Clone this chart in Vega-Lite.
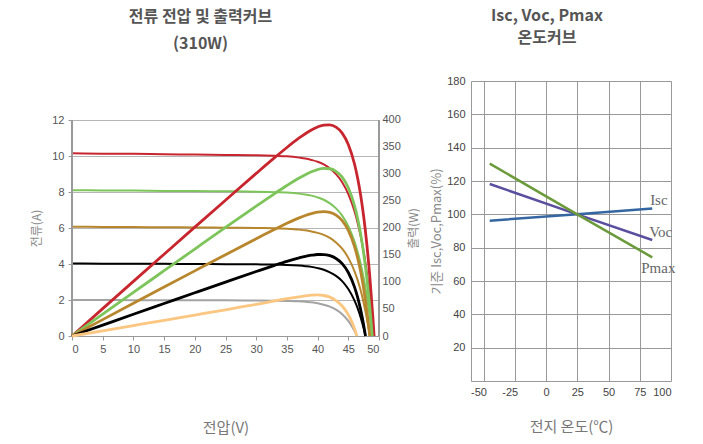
{
  "$schema": "https://vega.github.io/schema/vega-lite/v6.json",
  "background": "white",
  "padding": {"left": 30, "top": 8, "right": 5, "bottom": 5},
  "spacing": 10,
  "config": {
    "view": {"stroke": null},
    "font": "Liberation Sans",
    "axis": {
      "labelFont": "Liberation Sans",
      "labelFontSize": 11,
      "labelColor": "#555",
      "labelOverlap": false,
      "tickCount": 30,
      "labelExpr": "'' + datum.value",
      "titleFont": "Noto Sans CJK KR",
      "titleFontWeight": "normal",
      "titleColor": "#888",
      "domainColor": "#999",
      "tickColor": "#999"
    },
    "title": {"font": "Noto Sans CJK KR", "fontSize": 16, "fontWeight": "bold", "color": "#555", "anchor": "middle", "frame": "group"}
  },
  "datasets": {
    "iv": [
      {"s":"10A","V":0,"I":10.15,"P":0},{"s":"10A","V":5,"I":10.13,"P":50.7},{"s":"10A","V":10,"I":10.12,"P":101.2},{"s":"10A","V":15,"I":10.1,"P":151.5},{"s":"10A","V":20,"I":10.08,"P":201.6},{"s":"10A","V":25,"I":10.06,"P":251.5},{"s":"10A","V":30,"I":10.04,"P":301.1},{"s":"10A","V":33,"I":10.01,"P":330.3},{"s":"10A","V":35,"I":9.98,"P":349.1},{"s":"10A","V":37,"I":9.91,"P":366.7},{"s":"10A","V":38,"I":9.86,"P":374.6},{"s":"10A","V":39,"I":9.78,"P":381.6},{"s":"10A","V":40,"I":9.68,"P":387.1},{"s":"10A","V":41,"I":9.53,"P":390.6},{"s":"10A","V":42,"I":9.31,"P":390.9},{"s":"10A","V":43,"I":8.99,"P":386.7},{"s":"10A","V":44,"I":8.54,"P":375.8},{"s":"10A","V":45,"I":7.88,"P":354.8},{"s":"10A","V":46,"I":6.94,"P":319.0},{"s":"10A","V":46.5,"I":6.31,"P":293.6},{"s":"10A","V":47,"I":5.57,"P":261.6},{"s":"10A","V":47.5,"I":4.67,"P":221.7},{"s":"10A","V":48,"I":3.58,"P":171.9},{"s":"10A","V":48.5,"I":2.28,"P":110.4},{"s":"10A","V":49,"I":0.71,"P":34.9},{"s":"10A","V":49.2,"I":0,"P":0},
      {"s":"8A","V":0,"I":8.1,"P":0},{"s":"8A","V":5,"I":8.09,"P":40.5},{"s":"8A","V":10,"I":8.08,"P":80.8},{"s":"8A","V":15,"I":8.06,"P":120.9},{"s":"8A","V":20,"I":8.05,"P":161.0},{"s":"8A","V":25,"I":8.04,"P":201.0},{"s":"8A","V":30,"I":8.02,"P":240.5},{"s":"8A","V":33,"I":7.99,"P":263.8},{"s":"8A","V":35,"I":7.97,"P":278.8},{"s":"8A","V":37,"I":7.91,"P":292.7},{"s":"8A","V":38,"I":7.86,"P":298.8},{"s":"8A","V":39,"I":7.8,"P":304.1},{"s":"8A","V":40,"I":7.7,"P":308.2},{"s":"8A","V":41,"I":7.57,"P":310.3},{"s":"8A","V":42,"I":7.37,"P":309.7},{"s":"8A","V":43,"I":7.09,"P":305.0},{"s":"8A","V":44,"I":6.69,"P":294.3},{"s":"8A","V":45,"I":6.1,"P":274.6},{"s":"8A","V":46,"I":5.26,"P":241.8},{"s":"8A","V":46.5,"I":4.7,"P":218.6},{"s":"8A","V":47,"I":4.03,"P":189.6},{"s":"8A","V":47.5,"I":3.23,"P":153.4},{"s":"8A","V":48,"I":2.26,"P":108.6},{"s":"8A","V":48.5,"I":1.1,"P":53.3},{"s":"8A","V":48.9,"I":0,"P":0},
      {"s":"6A","V":0,"I":6.07,"P":0},{"s":"6A","V":5,"I":6.06,"P":30.3},{"s":"6A","V":10,"I":6.05,"P":60.5},{"s":"6A","V":15,"I":6.04,"P":90.6},{"s":"6A","V":20,"I":6.03,"P":120.6},{"s":"6A","V":25,"I":6.02,"P":150.5},{"s":"6A","V":30,"I":6.0,"P":180.1},{"s":"6A","V":33,"I":5.99,"P":197.5},{"s":"6A","V":35,"I":5.96,"P":208.6},{"s":"6A","V":37,"I":5.91,"P":218.7},{"s":"6A","V":38,"I":5.87,"P":223.1},{"s":"6A","V":39,"I":5.81,"P":226.7},{"s":"6A","V":40,"I":5.73,"P":229.3},{"s":"6A","V":41,"I":5.62,"P":230.3},{"s":"6A","V":42,"I":5.45,"P":228.8},{"s":"6A","V":43,"I":5.2,"P":223.8},{"s":"6A","V":44,"I":4.85,"P":213.5},{"s":"6A","V":45,"I":4.34,"P":195.5},{"s":"6A","V":46,"I":3.61,"P":166.0},{"s":"6A","V":46.5,"I":3.13,"P":145.5},{"s":"6A","V":47,"I":2.55,"P":119.8},{"s":"6A","V":47.5,"I":1.85,"P":87.8},{"s":"6A","V":48,"I":1.01,"P":48.5},{"s":"6A","V":48.5,"I":0,"P":0},
      {"s":"4A","V":0,"I":4.03,"P":0},{"s":"4A","V":5,"I":4.02,"P":20.1},{"s":"4A","V":10,"I":4.02,"P":40.2},{"s":"4A","V":15,"I":4.01,"P":60.1},{"s":"4A","V":20,"I":4.0,"P":80.0},{"s":"4A","V":25,"I":3.99,"P":99.8},{"s":"4A","V":30,"I":3.98,"P":119.4},{"s":"4A","V":33,"I":3.97,"P":130.9},{"s":"4A","V":35,"I":3.95,"P":138.2},{"s":"4A","V":37,"I":3.91,"P":144.7},{"s":"4A","V":38,"I":3.88,"P":147.5},{"s":"4A","V":39,"I":3.84,"P":149.6},{"s":"4A","V":40,"I":3.77,"P":150.9},{"s":"4A","V":41,"I":3.68,"P":150.8},{"s":"4A","V":42,"I":3.54,"P":148.7},{"s":"4A","V":43,"I":3.34,"P":143.6},{"s":"4A","V":44,"I":3.05,"P":134.0},{"s":"4A","V":45,"I":2.61,"P":117.6},{"s":"4A","V":46,"I":1.98,"P":91.0},{"s":"4A","V":46.5,"I":1.56,"P":72.4},{"s":"4A","V":47,"I":1.05,"P":49.3},{"s":"4A","V":47.5,"I":0.43,"P":20.5},{"s":"4A","V":47.8,"I":0,"P":0},
      {"s":"2A","V":0,"I":2.0,"P":0},{"s":"2A","V":5,"I":2.0,"P":9.6},{"s":"2A","V":10,"I":1.99,"P":19.3},{"s":"2A","V":15,"I":1.99,"P":29.0},{"s":"2A","V":20,"I":1.98,"P":38.8},{"s":"2A","V":25,"I":1.98,"P":48.6},{"s":"2A","V":30,"I":1.97,"P":58.5},{"s":"2A","V":33,"I":1.96,"P":65.0},{"s":"2A","V":35,"I":1.95,"P":69.0},{"s":"2A","V":37,"I":1.93,"P":72.6},{"s":"2A","V":38,"I":1.9,"P":74.3},{"s":"2A","V":39,"I":1.87,"P":75.6},{"s":"2A","V":40,"I":1.82,"P":76.0},{"s":"2A","V":41,"I":1.74,"P":75.0},{"s":"2A","V":42,"I":1.63,"P":72.0},{"s":"2A","V":43,"I":1.46,"P":65.5},{"s":"2A","V":44,"I":1.21,"P":55.5},{"s":"2A","V":45,"I":0.84,"P":39.5},{"s":"2A","V":45.5,"I":0.59,"P":28.0},{"s":"2A","V":46,"I":0.29,"P":14.0},{"s":"2A","V":46.4,"I":0,"P":0}
    ],
    "temp": [
      {"param":"Isc","T":-45,"pct":96.2},{"param":"Isc","T":25,"pct":100},{"param":"Isc","T":85,"pct":103.5},
      {"param":"Voc","T":-45,"pct":118.2},{"param":"Voc","T":25,"pct":100},{"param":"Voc","T":85,"pct":84.6},
      {"param":"Pmax","T":-45,"pct":130.4},{"param":"Pmax","T":25,"pct":100},{"param":"Pmax","T":85,"pct":74.2}
    ],
    "labels": [
      {"label":"Isc","T":83.3,"pct":108.6},
      {"label":"Voc","T":82.5,"pct":89.6},
      {"label":"Pmax","T":76.2,"pct":67.6}
    ]
  },
  "hconcat": [
    {
      "width": 307,
      "height": 255,
      "title": {"text": ["전류 전압 및 출력커브", "(310W)"], "lineHeight": 27, "offset": 29, "dx": -25},
      "data": {"name": "iv"},
      "layer": [
        {
          "layer": [
            {
              "mark": {"type": "line", "strokeWidth": 2, "interpolate": "monotone"},
              "encoding": {
                "x": {"field": "V", "type": "quantitative", "scale": {"domain": [0, 50]},
                  "axis": {"values": [0,5,10,15,20,25,30,35,40,45,50], "tickCount": 30, "grid": false, "tickSize": 4, "labelPadding": 3,
                    "title": "전압(V)", "titleFontSize": 15, "titleColor": "#777", "titlePadding": 66}},
                "y": {"field": "I", "type": "quantitative", "scale": {"domain": [0, 14.1667], "nice": false},
                  "axis": {"values": [0,2,4,6,8,10,12], "tickCount": 30, "grid": true, "gridColor": "#b5b5b5", "gridWidth": 1.2, "domain": false, "tickSize": 4, "labelPadding": 4,
                    "title": "전류(A)", "titleColor": "#8a8a8a", "titleFontSize": 12, "titlePadding": 8, "titleY": 147}},
                "color": {"field": "s", "type": "nominal", "legend": null,
                  "scale": {"domain": ["10A","8A","6A","4A","2A"], "range": ["#c8262f","#7dc55a","#b8862c","#000000","#a3a3a3"]}}
              }
            },
            {
              "mark": {"type": "rule", "color": "#999", "strokeWidth": 1},
              "encoding": {"x": {"datum": 0}, "y": {"datum": 0}, "y2": {"datum": 12}}
            },
            {
              "mark": {"type": "rule", "color": "#999", "strokeWidth": 1},
              "encoding": {"x": {"datum": 50}, "y": {"datum": 0}, "y2": {"datum": 12}}
            }
          ]
        },
        {
          "mark": {"type": "line", "strokeWidth": 2.8, "interpolate": "monotone"},
          "encoding": {
            "x": {"field": "V", "type": "quantitative"},
            "y": {"field": "P", "type": "quantitative", "scale": {"domain": [0, 472.22], "nice": false},
              "axis": {"orient": "right", "values": [0,50,100,150,200,250,300,350,400], "tickCount": 30, "grid": false, "domain": false, "ticks": false, "labelPadding": 3,
                "title": "출력(W)", "titleColor": "#8a8a8a", "titleFontSize": 12, "titlePadding": 8, "titleAngle": 270, "titleBaseline": "top", "titleY": 147}},
            "color": {"field": "s", "type": "nominal", "legend": null,
              "scale": {"domain": ["10A","8A","6A","4A","2A"], "range": ["#c8262f","#7dc55a","#b8862c","#000000","#fbc680"]}}
          }
        }
      ],
      "resolve": {"scale": {"y": "independent", "color": "independent"}}
    },
    {
      "width": 200,
      "height": 300,
      "title": {"text": ["Isc, Voc, Pmax", "온도커브"], "lineHeight": 22, "offset": 29, "dx": -24},
      "layer": [
        {
          "data": {"name": "temp"},
          "mark": {"type": "line", "strokeWidth": 2.5},
          "encoding": {
            "x": {"field": "T", "type": "quantitative", "scale": {"domain": [-50, 100]},
              "axis": {"values": [-50,-25,0,25,50,75,100], "tickCount": 30, "grid": true, "gridColor": "#999", "ticks": false, "labelPadding": 5, "labelColor": "#444",
                "labelOffset": {"condition": {"test": "datum.value < 0", "value": -5}, "value": 0},
                "title": "전지 온도(℃)", "titleFontSize": 15, "titleColor": "#777", "titlePadding": 22}},
            "y": {"field": "pct", "type": "quantitative", "scale": {"domain": [0, 180]},
              "axis": {"values": [20,40,60,80,100,120,140,160,180], "tickCount": 30, "grid": true, "gridColor": "#999", "ticks": false, "labelPadding": 6, "labelColor": "#444",
                "title": "기준 Isc,Voc,Pmax(%)", "titleColor": "#8a8a8a", "titleFontSize": 13, "titlePadding": 3}},
            "color": {"field": "param", "type": "nominal", "legend": null,
              "scale": {"domain": ["Isc","Voc","Pmax"], "range": ["#3467a1","#5a4f9e","#6b9a3b"]}}
          }
        },
        {
          "data": {"name": "labels"},
          "mark": {"type": "text", "align": "left", "baseline": "middle", "font": "Liberation Serif", "fontSize": 15, "color": "#666"},
          "encoding": {
            "x": {"field": "T", "type": "quantitative"},
            "y": {"field": "pct", "type": "quantitative"},
            "text": {"field": "label"}
          }
        }
      ]
    }
  ]
}
